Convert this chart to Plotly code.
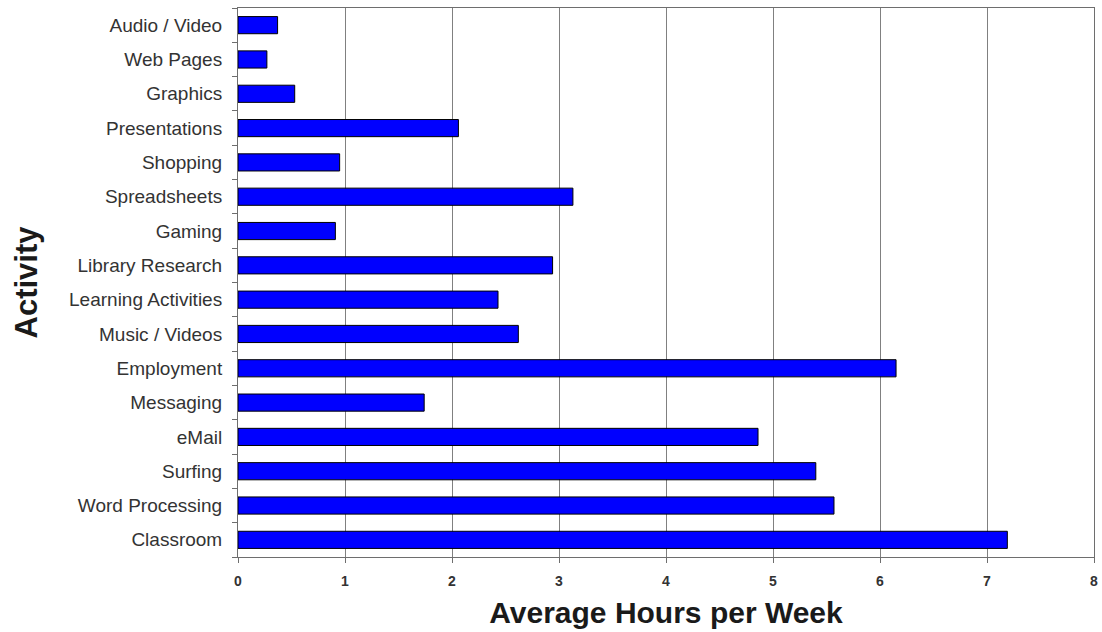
import plotly.graph_objects as go

activities = [
    "Classroom", "Word Processing", "Surfing", "eMail", "Messaging",
    "Employment", "Music / Videos", "Learning Activities", "Library Research",
    "Gaming", "Spreadsheets", "Shopping", "Presentations", "Graphics",
    "Web Pages", "Audio / Video",
]
hours = [
    7.19, 5.57, 5.40, 4.86, 1.74,
    6.15, 2.62, 2.43, 2.94,
    0.91, 3.13, 0.95, 2.06, 0.53,
    0.27, 0.37,
]
x_ticks = [0, 1, 2, 3, 4, 5, 6, 7, 8]

fig = go.Figure(
    go.Bar(
        x=hours,
        y=activities,
        orientation="h",
        marker=dict(color="#0000FF", line=dict(color="#000000", width=1)),
        hoverinfo="x+y",
    )
)

fig.update_layout(
    width=1102,
    height=632,
    margin=dict(l=238, r=8, t=8, b=75, autoexpand=False),
    paper_bgcolor="white",
    plot_bgcolor="white",
    bargap=0.5,
    showlegend=False,
    font=dict(family="Arial, Liberation Sans, sans-serif"),
)

fig.update_xaxes(
    range=[0, 8],
    tickvals=x_ticks,
    ticktext=[f"<b>{v}</b>" for v in x_ticks],
    tickfont=dict(size=14, color="#333333"),
    automargin=False,
    showgrid=True,
    gridcolor="#808080",
    gridwidth=1,
    zeroline=False,
    showline=True,
    linecolor="#6e6e6e",
    linewidth=1,
    mirror=True,
    ticks="outside",
    ticklen=5,
    tickcolor="#6e6e6e",
    ticklabelstandoff=6,
    title=dict(
        text="<b>Average Hours per Week</b>",
        font=dict(size=30, color="#1a1a1a"),
        standoff=14,
    ),
)

fig.update_yaxes(
    categoryorder="array",
    categoryarray=activities,
    tickfont=dict(size=19, color="#333333"),
    automargin=False,
    showgrid=False,
    showline=True,
    linecolor="#6e6e6e",
    linewidth=1,
    mirror=True,
    ticks="outside",
    tickson="boundaries",
    ticklen=5,
    tickcolor="#6e6e6e",
    ticklabelstandoff=11,
    range=[-0.5, len(activities) - 0.5],
    title=dict(
        text="<b>Activity</b>",
        font=dict(size=31, color="#1a1a1a"),
        standoff=22,
    ),
)

fig.write_html("out.html")
